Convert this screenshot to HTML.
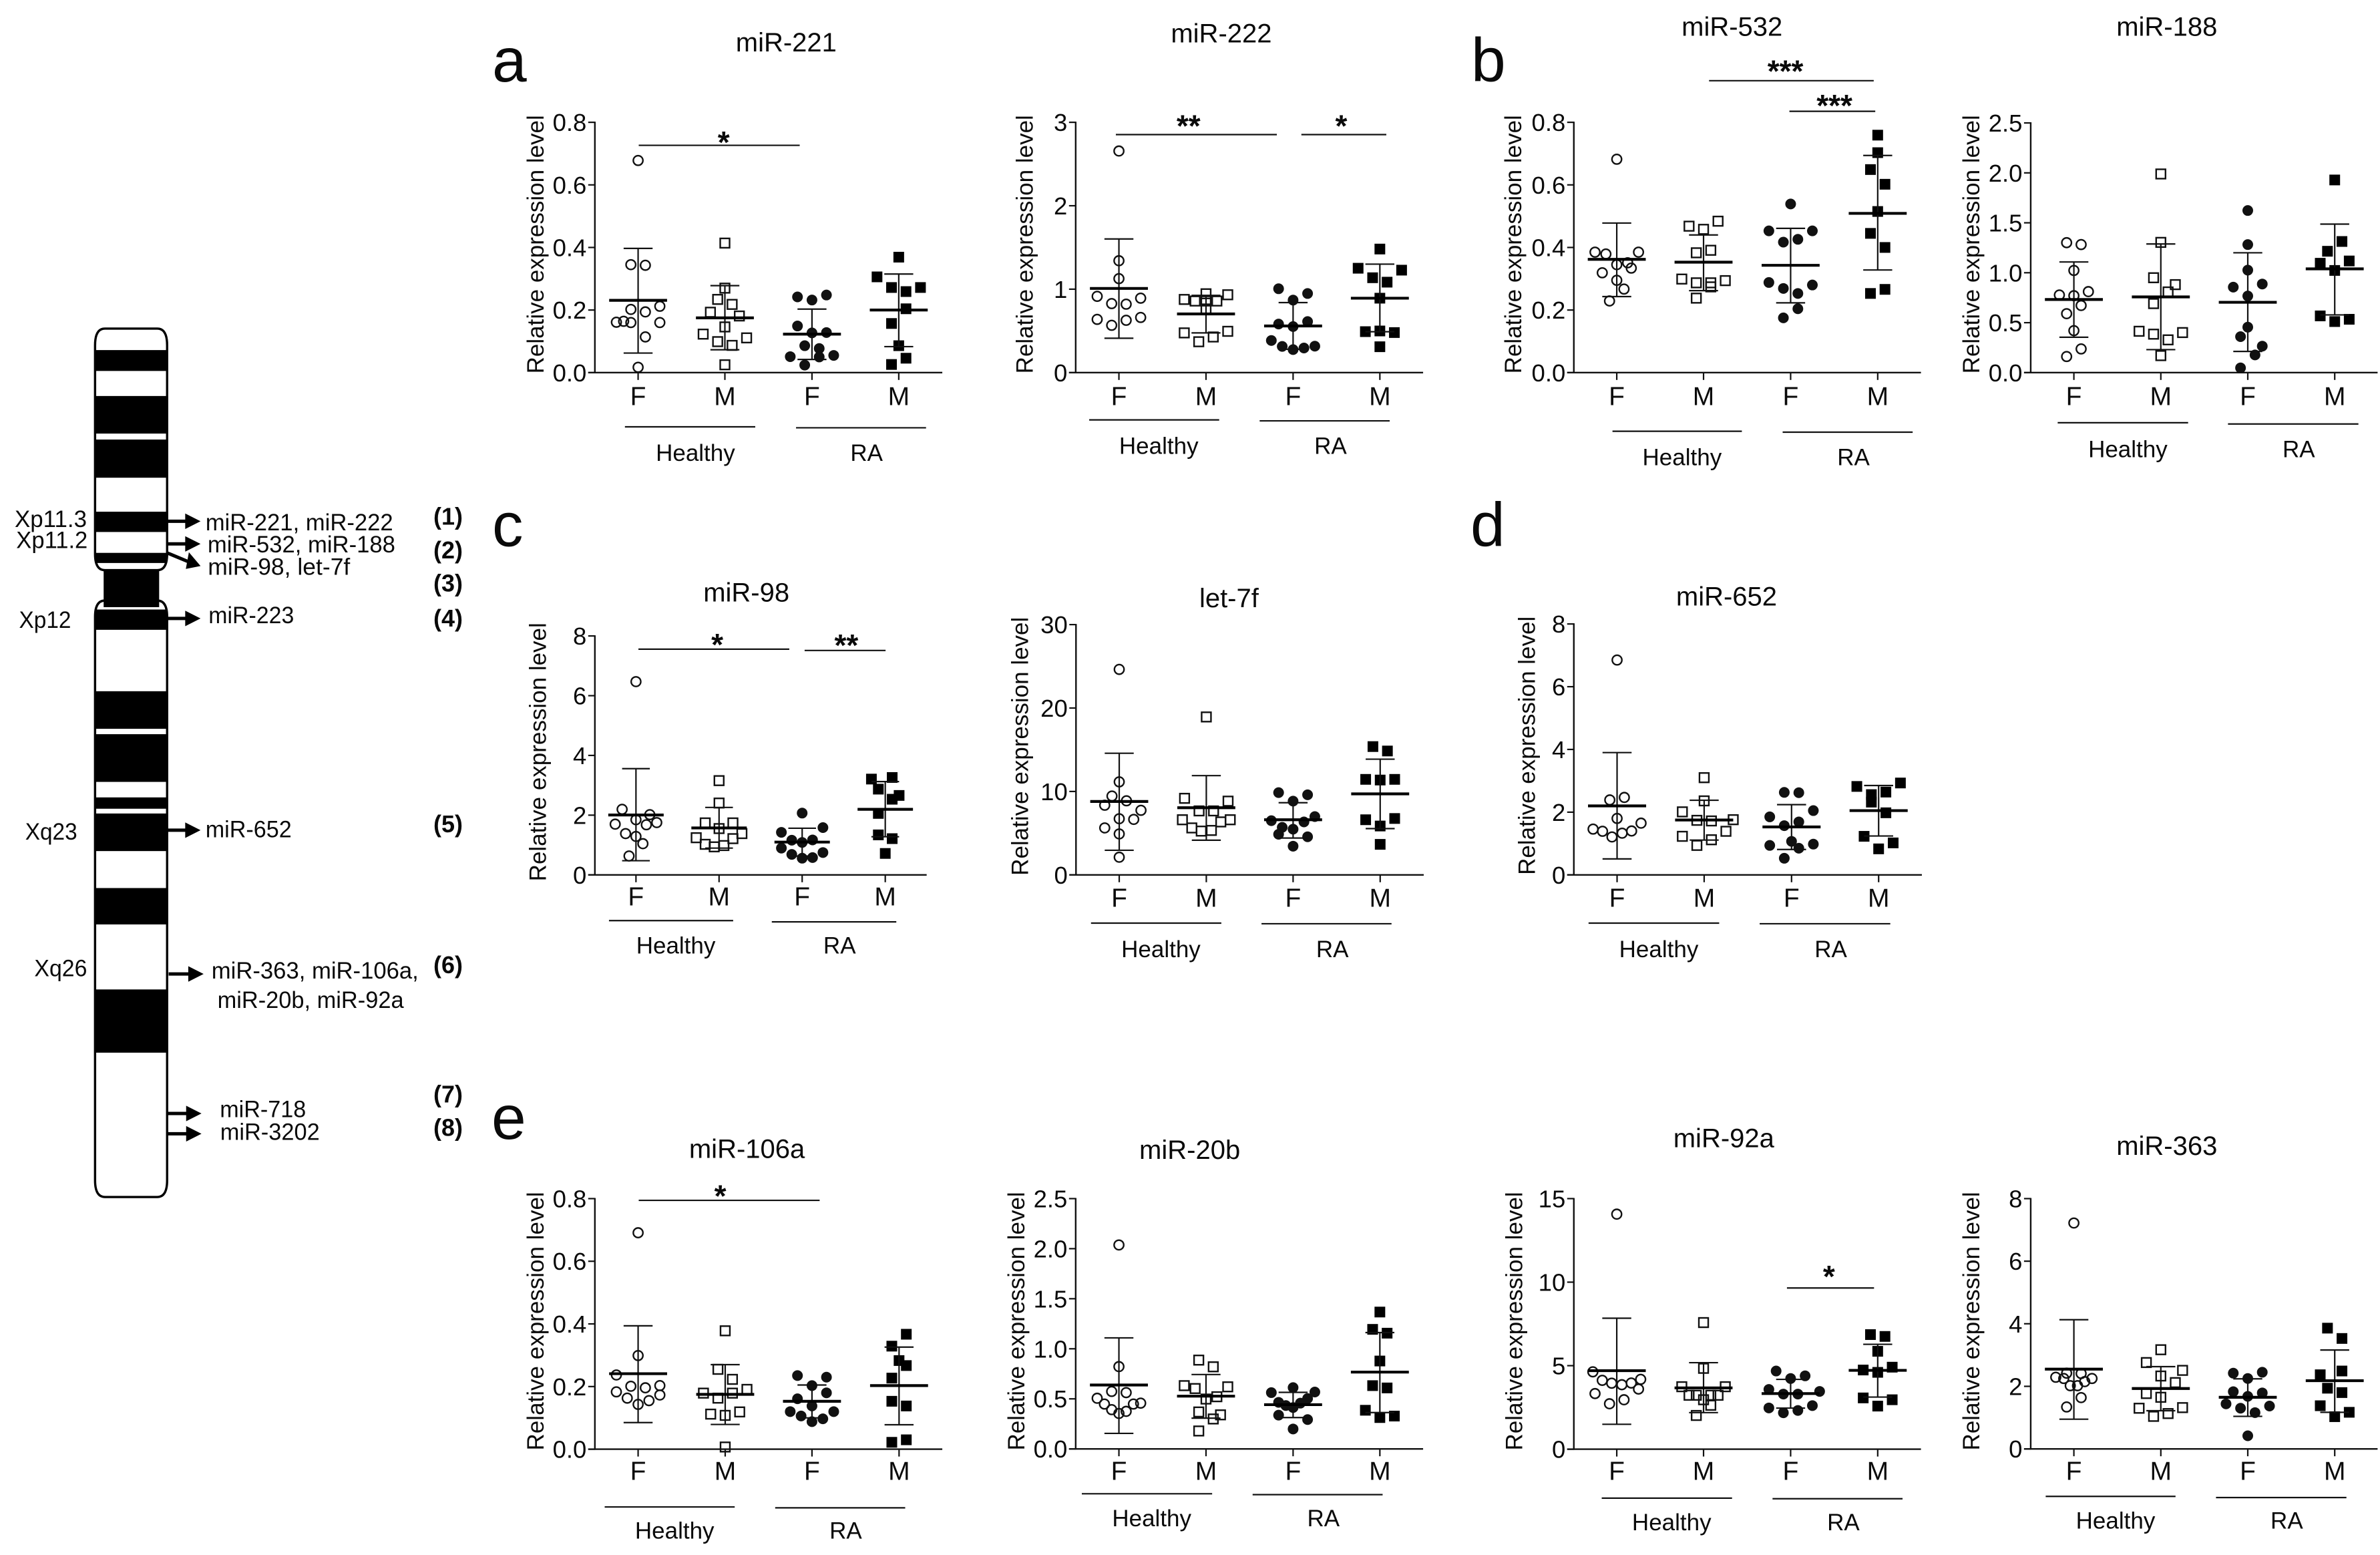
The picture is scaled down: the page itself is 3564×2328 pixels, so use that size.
<!DOCTYPE html>
<html lang="en">
<head>
<meta charset="utf-8">
<title>X-linked miRNA expression in healthy and RA groups</title>
<style>
html,body{margin:0;padding:0;background:#fff;}
svg{display:block;font-family:"Liberation Sans",Arial,sans-serif;}
text{fill:#0a0a0a;}
</style>
</head>
<body>
<svg id="figure" width="3564" height="2328" viewBox="0 0 3564 2328" xmlns="http://www.w3.org/2000/svg">
<rect x="0" y="0" width="3564" height="2328" fill="#fff"/>

<g>
  <g transform="translate(0,450) scale(0.4592,0.8929)">
    <path d="M310 75 Q310 47 342 47 L513 47 Q545 47 545 75 L545 425 Q545 452 513 452 L342 452 Q310 452 310 425 Z" fill="#fff" stroke="#000" stroke-width="3.4" vector-effect="non-scaling-stroke"/>
    <path d="M310 530 Q310 503 342 503 L513 503 Q545 503 545 530 L545 1475 Q545 1503 513 1503 L342 1503 Q310 1503 310 1475 Z" fill="#fff" stroke="#000" stroke-width="3.4" vector-effect="non-scaling-stroke"/>
    <rect x="338" y="452" width="181" height="62" fill="#000"/>
    <rect x="310" y="83" width="235" height="35" fill="#000"/>
    <rect x="310" y="160" width="235" height="63" fill="#000"/>
    <rect x="310" y="233" width="235" height="64" fill="#000"/>
    <rect x="310" y="354" width="235" height="34" fill="#000"/>
    <rect x="310" y="423" width="235" height="17" fill="#000"/>
    <rect x="310" y="518" width="235" height="34" fill="#000"/>
    <rect x="310" y="655" width="235" height="63" fill="#000"/>
    <rect x="310" y="727" width="235" height="80" fill="#000"/>
    <rect x="310" y="833" width="235" height="19" fill="#000"/>
    <rect x="310" y="860" width="235" height="63" fill="#000"/>
    <rect x="310" y="985" width="235" height="61" fill="#000"/>
    <rect x="310" y="1155" width="235" height="106" fill="#000"/>
    <g stroke="#000" stroke-width="5" fill="#000">
      <g><line x1="545" y1="370" x2="615" y2="370" vector-effect="non-scaling-stroke"/><path stroke="none" d="M604 357 L654 370 L604 383 Z"/></g>
      <g><line x1="545" y1="408" x2="615" y2="408" vector-effect="non-scaling-stroke"/><path stroke="none" d="M604 395 L654 408 L604 421 Z"/></g>
      <g><line x1="545" y1="423" x2="615" y2="438" vector-effect="non-scaling-stroke"/><path stroke="none" d="M616 422 L654 445 L606 450 Z"/></g>
      <g><line x1="545" y1="533" x2="615" y2="533" vector-effect="non-scaling-stroke"/><path stroke="none" d="M604 520 L654 533 L604 546 Z"/></g>
      <g><line x1="545" y1="888" x2="615" y2="888" vector-effect="non-scaling-stroke"/><path stroke="none" d="M604 875 L654 888 L604 901 Z"/></g>
      <g><line x1="550" y1="1129" x2="625" y2="1129" vector-effect="non-scaling-stroke"/><path stroke="none" d="M614 1116 L664 1129 L614 1142 Z"/></g>
      <g><line x1="545" y1="1363" x2="618" y2="1363" vector-effect="non-scaling-stroke"/><path stroke="none" d="M607 1350 L657 1363 L607 1376 Z"/></g>
      <g><line x1="545" y1="1397" x2="618" y2="1397" vector-effect="non-scaling-stroke"/><path stroke="none" d="M607 1384 L657 1397 L607 1410 Z"/></g>
    </g>
  </g>
  <g font-size="35">
    <text x="307.7" y="793.8" textLength="281" lengthAdjust="spacingAndGlyphs">miR-221, miR-222</text>
    <text x="310.9" y="826.8" textLength="281" lengthAdjust="spacingAndGlyphs">miR-532, miR-188</text>
    <text x="311.3" y="860.7" textLength="213" lengthAdjust="spacingAndGlyphs">miR-98, let-7f</text>
    <text x="312.3" y="933" textLength="128" lengthAdjust="spacingAndGlyphs">miR-223</text>
    <text x="307.7" y="1253.6" textLength="129" lengthAdjust="spacingAndGlyphs">miR-652</text>
    <text x="316.8" y="1465.2" textLength="310" lengthAdjust="spacingAndGlyphs">miR-363, miR-106a,</text>
    <text x="325.6" y="1509" textLength="279" lengthAdjust="spacingAndGlyphs">miR-20b, miR-92a</text>
    <text x="329.2" y="1672.4" textLength="129" lengthAdjust="spacingAndGlyphs">miR-718</text>
    <text x="329.7" y="1706.3" textLength="149" lengthAdjust="spacingAndGlyphs">miR-3202</text>
    <text x="22" y="789" textLength="108" lengthAdjust="spacingAndGlyphs">Xp11.3</text>
    <text x="24.3" y="820.4" textLength="107" lengthAdjust="spacingAndGlyphs">Xp11.2</text>
    <text x="28.5" y="940" textLength="78" lengthAdjust="spacingAndGlyphs">Xp12</text>
    <text x="37.7" y="1257" textLength="78" lengthAdjust="spacingAndGlyphs">Xq23</text>
    <text x="51.4" y="1461.7" textLength="79" lengthAdjust="spacingAndGlyphs">Xq26</text>
  </g>
  <g font-size="36" font-weight="700">
    <text x="649" y="785.3">(1)</text>
    <text x="649" y="836.2">(2)</text>
    <text x="649" y="885.3">(3)</text>
    <text x="649" y="938">(4)</text>
    <text x="649" y="1246">(5)</text>
    <text x="649" y="1456.8">(6)</text>
    <text x="649" y="1650.6">(7)</text>
    <text x="649" y="1700.6">(8)</text>
  </g>
</g>

<g font-size="93">
  <text x="737" y="122">a</text>
  <text x="2203" y="122">b</text>
  <text x="737" y="817.6">c</text>
  <text x="2202" y="817.6">d</text>
  <text x="736" y="1705">e</text>
</g>
<g id="charts"></g>
</svg>

<script>
// ---- shared categories and tick labels ----
const sexCategories = ['F', 'M', 'F', 'M'];
const cohortCategories = ['Healthy', 'RA'];
const ticksPoint8 = ['0.0', '0.2', '0.4', '0.6', '0.8'];
const ticks3 = ['0', '1', '2', '3'];
const ticks2point5 = ['0.0', '0.5', '1.0', '1.5', '2.0', '2.5'];
const ticks8 = ['0', '2', '4', '6', '8'];
const ticks30 = ['0', '10', '20', '30'];
const ticks15 = ['0', '5', '10', '15'];

// ---- series: values, jitter slot (category offset), mean, SD bounds ----
const miR221_values = [
  [.678,.345,.343,.212,.202,.194,.161,.164,.160,.160,.114,.017],
  [.414,.270,.234,.218,.193,.181,.146,.123,.111,.099,.087,.025],
  [.242,.232,.248,.149,.127,.128,.086,.077,.051,.050,.055,.024],
  [.369,.306,.272,.259,.272,.204,.157,.086,.046,.026]];
const miR221_slots = [
  [0,-1,1,3,-1,1,-3,-2,-1,3,1,0],
  [0,0,-1,1,-2,2,0,-3,3,-1,1,0],
  [-2,0,2,-2,0,2,-1,1,-3,1,3,-1],
  [0,-3,-1,1,3,1,-1,0,1,-1]];
const miR221_means = [.231,.175,.123,.200];
const miR221_upper = [.397,.278,.203,.315];
const miR221_lower = [.0625,.073,.042,.083];

const miR222_values = [
  [2.656,1.341,1.126,.914,.892,.827,.820,.638,.661,.627,.567],
  [.945,.933,.877,.858,.858,.858,.763,.476,.495,.427,.370],
  [1.005,.948,.869,.582,.612,.552,.385,.314,.276,.295,.317],
  [1.481,1.251,1.228,1.137,1.084,.892,.491,.499,.480,.310]];
const miR222_slots = [
  [0,0,0,-3,3,-1,1,-3,3,1,-1],
  [0,3,-3,-1.5,1.5,0,0,-3,3,1,-1],
  [-2,2,0,-2,2,0,-3,-1.5,0,1.5,3],
  [0,-3,3,-1,1,0,-2,0,2,0]];
const miR222_means = [1.009,.703,.559,.892];
const miR222_upper = [1.602,.926,.839,1.300];
const miR222_lower = [.412,.476,.28,.49];

const miR532_values = [
  [.682,.385,.379,.385,.351,.345,.334,.319,.295,.267,.229],
  [.484,.468,.458,.391,.383,.299,.287,.287,.294,.274,.238],
  [.539,.453,.453,.417,.426,.288,.280,.269,.253,.204,.175],
  [.759,.703,.649,.602,.515,.445,.400,.266,.253]];
const miR532_slots = [
  [0,-3,-1.5,3,1.5,0,2,-2,0,1,-1],
  [2,-2,0,1,-1,-3,-1,1,3,1,-1],
  [0,-3,3,-1,1,-3,3,-1,1,1,-1],
  [0,0,-1,1,0,-1,1,1,-1]];
const miR532_means = [.362,.353,.343,.509];
const miR532_upper = [.478,.440,.461,.694];
const miR532_lower = [.243,.262,.223,.328];

const miR188_values = [
  [1.301,1.282,1.023,.777,.770,.811,.672,.590,.420,.237,.161],
  [1.989,1.304,.950,.881,.808,.691,.414,.385,.401,.328,.170],
  [1.623,1.282,1.026,.856,.887,.767,.455,.360,.265,.177,.047],
  [1.929,1.313,1.215,1.095,1.118,1.023,.568,.534,.511]];
const miR188_slots = [
  [-1,1,0,-2,0,2,1,-1,0,1,-1],
  [0,0,-1,2,1,-1,-3,-1,3,1,0],
  [0,0,0,-2,2,0,0,-1,2,1,-1],
  [0,1,-1,-2,2,0,-2,2,0]];
const miR188_means = [.732,.758,.704,1.039];
const miR188_upper = [1.108,1.288,1.200,1.487];
const miR188_lower = [.354,.230,.212,.578];

const miR98_values = [
  [6.47,2.195,2.016,1.847,1.752,1.699,1.678,1.383,1.288,1.045,.633],
  [3.156,2.406,1.741,1.741,1.551,1.383,1.245,1.214,1.024,.982,.939],
  [2.069,1.583,1.425,1.161,1.087,1.171,.897,.749,.686,.559,.580],
  [3.208,3.261,2.871,2.660,2.533,2.058,1.340,1.214,.718]];
const miR98_slots = [
  [0,-2,2,0,3,-3,1.5,-1.5,0,1,-1],
  [0,0,-2,2,0,3.3,-3.3,2,-2,.7,-.7],
  [0,3,-3,-1.5,0,1.5,-3,3,-1.5,0,1.5],
  [-2,1,-1,2,1,-1,-1,1,0]];
const miR98_means = [2.005,1.573,1.098,2.195];
const miR98_upper = [3.557,2.259,1.562,3.124];
const miR98_lower = [.475,.897,.63,1.277];

const let7f_values = [
  [24.63,11.15,9.45,8.88,8.35,7.74,6.73,6.65,5.63,4.91,2.12],
  [18.93,9.18,8.84,7.67,7.67,6.61,6.61,6.35,5.63,5.25,5.33],
  [9.86,9.60,8.84,6.99,6.50,6.35,5.70,5.48,4.87,4.57,3.44],
  [15.38,14.85,11.45,11.37,11.45,6.61,6.76,5.86,3.66]];
const let7f_slots = [
  [0,0,-1,1,-2,3,0,2,-2,0,0],
  [0,-3,3,-1,1,-3.3,3.3,2,-2,-.7,.7],
  [-2,2,0,3,-3,1.5,-1.5,0,-2,2,0],
  [-1,1,-2,0,2,-2,2,0,0]];
const let7f_means = [8.80,8.05,6.61,9.71];
const let7f_upper = [14.58,11.90,8.65,13.87];
const let7f_lower = [2.95,4.16,4.42,5.55];

const miR652_values = [
  [6.85,2.47,2.39,1.80,1.65,1.46,1.39,1.40,1.33,1.21],
  [3.10,2.36,2.01,1.74,1.72,1.76,1.39,1.23,1.12,.94],
  [2.63,2.62,2.05,1.85,1.69,1.57,1.07,.94,.98,.85,.53],
  [2.82,2.93,2.56,2.64,2.32,1.98,1.23,1.02,.83]];
const miR652_slots = [
  [0,1,-1,0,3.3,-3.3,-2,2,.7,-.7],
  [0,0,-3,-1,1,4,3,-3,1,-1],
  [-1,1,3,-3,1,-1,0,-3,3,1,-1],
  [-3,3,-1,1,-1,1,-2,2,0]];
const miR652_means = [2.20,1.75,1.53,2.05];
const miR652_upper = [3.90,2.38,2.24,2.85];
const miR652_lower = [.51,1.11,.81,1.24];

const miR106a_values = [
  [.691,.299,.237,.203,.201,.196,.183,.173,.163,.155,.143],
  [.378,.255,.223,.191,.179,.179,.163,.119,.112,.108,.007],
  [.235,.230,.203,.180,.161,.138,.120,.120,.106,.097,.088],
  [.367,.329,.283,.267,.227,.153,.138,.030,.022]];
const miR106a_slots = [
  [0,0,-3,3,-1,1,-3,3,-1.5,1.5,0],
  [0,-1,1,3,-3,1,-1,2,-2,0,0],
  [-2,2,0,2,-2,0,-3,3,-1.5,1.5,0],
  [1,-1,0,1,-1,-1,1,1,-1]];
const miR106a_means = [.241,.175,.153,.203];
const miR106a_upper = [.394,.270,.205,.326];
const miR106a_lower = [.085,.079,.100,.078];

const miR20b_values = [
  [2.037,.822,.574,.562,.506,.448,.457,.448,.392,.375,.354],
  [.887,.820,.632,.620,.603,.521,.498,.369,.340,.299,.179],
  [.612,.562,.568,.503,.465,.457,.433,.413,.337,.293,.199],
  [1.367,1.194,1.156,.878,.632,.609,.386,.313,.328]];
const miR20b_slots = [
  [0,0,-1,1,-3,-2,3,2,-1,1,0],
  [-1,1,-3,3,-1.5,1.5,0,-1,2,1,-1],
  [0,-3,3,2,-2,1,-1,0,-2,2,0],
  [0,-1,1,0,-1,1,-2,0,2]];
const miR20b_means = [.638,.527,.442,.767];
const miR20b_upper = [1.109,.743,.565,1.162];
const miR20b_lower = [.155,.307,.313,.363];

const miR92a_values = [
  [14.07,4.63,4.18,4.12,3.95,3.86,3.96,3.60,3.33,2.96,2.72],
  [7.58,4.84,3.74,3.74,3.23,3.23,3.23,3.23,2.96,2.63,2.02],
  [4.68,4.23,4.39,3.58,3.46,3.30,3.30,2.47,2.61,2.32,2.18],
  [6.86,6.75,5.86,4.74,4.91,4.60,3.07,2.96,2.58]];
const miR92a_slots = [
  [0,-3.3,3.3,-2,-.7,.7,2,3,-3,1,-1],
  [0,0,-3,3,-2,-1,1,2,0,1,-1],
  [-2,0,2,-3,4,-1,1,-3,3,1,-1],
  [-1,1,0,-2,2,0,-2,2,0]];
const miR92a_means = [4.70,3.67,3.33,4.72];
const miR92a_upper = [7.84,5.18,4.18,6.28];
const miR92a_lower = [1.49,2.19,2.46,3.12];

const miR363_values = [
  [7.22,2.42,2.41,2.29,2.25,2.25,2.15,2.02,2.02,1.64,1.34],
  [3.17,2.76,2.51,2.33,2.12,1.77,1.65,1.30,1.32,1.13,1.04],
  [2.42,2.45,2.25,1.83,1.79,1.68,1.44,1.37,1.30,1.16,.42],
  [3.86,3.53,2.49,2.37,1.94,1.80,1.38,1.17,1.03]];
const miR363_slots = [
  [0,-1,1,-2.5,2.5,-1.4,1.5,-.5,.5,1,-1],
  [0,-2,3,0,2,-2,0,-3,3,1,-1],
  [-2,2,0,-2,2,0,-3,3,-1,1,0],
  [-1,1,1,-2,-1,1,-2,2,0]];
const miR363_means = [2.55,1.93,1.65,2.18];
const miR363_upper = [4.13,2.63,2.24,3.16];
const miR363_lower = [.95,1.22,1.04,1.17];

// ---- drawing helpers ----
const SVG_NS = 'http://www.w3.org/2000/svg';
const root = document.getElementById('charts');
function node(parent, tag, attrs, content) {
  const el = document.createElementNS(SVG_NS, tag);
  for (const k in attrs) el.setAttribute(k, attrs[k]);
  if (content !== undefined) el.textContent = content;
  parent.appendChild(el);
  return el;
}

function drawPanel(o) {
  const sx = o.w / 1568, sy = o.h / 1568;
  const X = z => o.x0 + z * sx;
  const Y = z => o.y0 + z * sy;
  const axisX = X(o.axis), baseY = Y(o.base), topY = Y(o.top);
  const ymax = parseFloat(o.ticks[o.ticks.length - 1]);
  const yScale = v => baseY - (v / ymax) * (baseY - topY);
  const catX = i => X(o.cats[i]);
  const step = (o.cats[3] - o.cats[0]) / 3 * sx;
  const slotX = (i, s) => catX(i) + s * step / 12;

  const g = node(root, 'g', {});
  
  

  const title = node(g, 'text', {x: X(o.titleX), y: Y(o.titleY), 'font-size': 40, 'text-anchor': 'middle'}, o.title);
  
  

  const yl = node(g, 'text', {x: X(o.ylabelX), y: Y(o.ylabelCy), 'font-size': 35, 'text-anchor': 'middle',
    transform: 'rotate(-90 ' + X(o.ylabelX) + ' ' + Y(o.ylabelCy) + ')'}, 'Relative expression level');
  
  

  const yAxis = node(g, 'line', {x1: axisX, x2: axisX, y1: topY - 1, y2: baseY + 1, stroke: '#111', 'stroke-width': 2.4});
  
  
  const xAxis = node(g, 'line', {x1: axisX - 10, x2: X(o.right), y1: baseY, y2: baseY, stroke: '#111', 'stroke-width': 2.4});
  
  

  o.ticks.forEach(label => {
    const y = yScale(parseFloat(label));
    const t = node(g, 'line', {x1: axisX - 10, x2: axisX, y1: y, y2: y, stroke: '#111', 'stroke-width': 2.2});
    
    
    const tl = node(g, 'text', {x: axisX - 12.5, y: y + 13, 'font-size': 36.5, 'text-anchor': 'end'}, label);
    
    
  });

  sexCategories.forEach((label, i) => {
    const t = node(g, 'line', {x1: catX(i), x2: catX(i), y1: baseY, y2: baseY + 11, stroke: '#111', 'stroke-width': 2.2});
    
    
    const tl = node(g, 'text', {x: catX(i), y: Y(o.xlabelY), 'font-size': 39, 'text-anchor': 'middle'}, label);
    
    
  });

  cohortCategories.forEach((label, i) => {
    const spec = o.cohorts[i];
    const ln = node(g, 'line', {x1: X(spec[0]), x2: X(spec[1]), y1: Y(spec[2]), y2: Y(spec[2]), stroke: '#111', 'stroke-width': 2.2});
    
    
    const tx = node(g, 'text', {x: X(spec[3]), y: Y(spec[4]), 'font-size': 35, 'text-anchor': 'middle'}, label);
    
    
  });

  o.values.forEach((series, i) => {
    series.forEach((v, j) => {
      const cx = slotX(i, o.slots[i][j]), cy = yScale(v);
      let m;
      if (i === 0) {
        m = node(g, 'circle', {cx: cx, cy: cy, r: 7.2, fill: 'none', stroke: '#111', 'stroke-width': 2.4});
      } else if (i === 1) {
        m = node(g, 'rect', {x: cx - 7, y: cy - 7, width: 14, height: 14, fill: 'none', stroke: '#111', 'stroke-width': 2.4});
      } else if (i === 2) {
        m = node(g, 'circle', {cx: cx, cy: cy, r: 8, fill: '#111'});
      } else {
        m = node(g, 'rect', {x: cx - 8, y: cy - 8, width: 16, height: 16, fill: '#000'});
      }
      
      
    });
    const cx = catX(i);
    const stem = node(g, 'line', {x1: cx, x2: cx, y1: yScale(o.upper[i]), y2: yScale(o.lower[i]), stroke: '#111', 'stroke-width': 2.2});
    
    
    const capHi = node(g, 'line', {x1: cx - step / 6, x2: cx + step / 6, y1: yScale(o.upper[i]), y2: yScale(o.upper[i]), stroke: '#111', 'stroke-width': 2.2});
    
    
    const capLo = node(g, 'line', {x1: cx - step / 6, x2: cx + step / 6, y1: yScale(o.lower[i]), y2: yScale(o.lower[i]), stroke: '#111', 'stroke-width': 2.2});
    
    
    const mean = node(g, 'line', {x1: cx - step / 3, x2: cx + step / 3, y1: yScale(o.means[i]), y2: yScale(o.means[i]), stroke: '#000', 'stroke-width': 4.2});
    
    
  });

  (o.sig || []).forEach(s => {
    const ln = node(g, 'line', {x1: X(s[0]), x2: X(s[1]), y1: Y(s[2]), y2: Y(s[2]), stroke: '#111', 'stroke-width': 2.2});
    
    
    const st = node(g, 'text', {x: X(s[4]), y: Y(s[5]) + 26, 'font-size': 46, 'font-weight': 700, 'text-anchor': 'middle'}, s[3]);
    
    
  });
}

// ---- layout per panel (reference-crop units) and data wiring ----
drawPanel({title:'miR-221', x0:720, y0:0, w:720, h:740, axis:372, base:1182, top:388, right:1505,
  cats:[513,796,1080,1363], ticks:ticksPoint8, titleX:996, titleY:163, ylabelX:205, ylabelCy:775, xlabelY:1285,
  cohorts:[[470,895,1354,700,1462],[1028,1452,1357,1258,1462]], sig:[[515,1040,461,'*',792,430]],
  values:miR221_values, slots:miR221_slots, means:miR221_means, upper:miR221_upper, lower:miR221_lower});

drawPanel({title:'miR-222', x0:1440, y0:0, w:720, h:740, axis:372, base:1182, top:388, right:1505,
  cats:[513,797,1081,1364], ticks:ticks3, titleX:847, titleY:135, ylabelX:232, ylabelCy:775, xlabelY:1285,
  cohorts:[[416,840,1332,643,1440],[972,1396,1335,1203,1440]], sig:[[503,1028,427,'**',740,378],[1108,1385,427,'*',1238,378]],
  values:miR222_values, slots:miR222_slots, means:miR222_means, upper:miR222_upper, lower:miR222_lower});

drawPanel({title:'miR-532', x0:2180, y0:0, w:720, h:740, axis:385, base:1182, top:388, right:1517,
  cats:[525,808,1092,1376], ticks:ticksPoint8, titleX:901, titleY:113, ylabelX:213, ylabelCy:775, xlabelY:1285,
  cohorts:[[511,933,1368,738,1476],[1066,1490,1371,1297,1476]], sig:[[826,1363,256,'***',1075,205],[1088,1368,353,'***',1235,314]],
  values:miR532_values, slots:miR532_slots, means:miR532_means, upper:miR532_upper, lower:miR532_lower});

drawPanel({title:'miR-188', x0:2860, y0:0, w:704, h:740, axis:403, base:1182, top:390, right:1560,
  cats:[547,837,1127,1417], ticks:ticks2point5, titleX:857, titleY:113, ylabelX:232, ylabelCy:775, xlabelY:1285,
  cohorts:[[493,928,1341,727,1450],[1061,1496,1345,1297,1450]],
  values:miR188_values, slots:miR188_slots, means:miR188_means, upper:miR188_upper, lower:miR188_lower});

drawPanel({title:'miR-98', x0:720, y0:760, w:720, h:740, axis:372, base:1165, top:407, right:1454,
  cats:[506,777,1048,1319], ticks:ticks8, titleX:866, titleY:298, ylabelX:212, ylabelCy:775, xlabelY:1262,
  cohorts:[[418,823,1310,636,1414],[949,1355,1314,1170,1414]], sig:[[514,1006,449,'*',771,413],[1056,1320,453,'**',1192,415]],
  values:miR98_values, slots:miR98_slots, means:miR98_means, upper:miR98_upper, lower:miR98_lower});

drawPanel({title:'let-7f', x0:1440, y0:760, w:720, h:740, axis:373, base:1165, top:371, right:1507,
  cats:[514,798,1081,1365], ticks:ticks30, titleX:872, titleY:316, ylabelX:217, ylabelCy:757, xlabelY:1266,
  cohorts:[[422,847,1318,650,1426],[978,1402,1320,1209,1426]],
  values:let7f_values, slots:let7f_slots, means:let7f_means, upper:let7f_upper, lower:let7f_lower});

drawPanel({title:'miR-652', x0:2180, y0:760, w:720, h:740, axis:385, base:1165, top:369, right:1520,
  cats:[526,810,1095,1379], ticks:ticks8, titleX:883, titleY:310, ylabelX:258, ylabelCy:755, xlabelY:1266,
  cohorts:[[433,859,1318,662,1426],[991,1417,1320,1223,1426]],
  values:miR652_values, slots:miR652_slots, means:miR652_means, upper:miR652_upper, lower:miR652_lower});

drawPanel({title:'miR-106a', x0:720, y0:1640, w:720, h:688, axis:372, base:1207, top:352, right:1505,
  cats:[513,797,1080,1364], ticks:ticksPoint8, titleX:868, titleY:213, ylabelX:205, ylabelCy:770, xlabelY:1312,
  cohorts:[[404,828,1404,632,1512],[960,1384,1407,1190,1512]], sig:[[515,1105,358,'*',781,320]],
  values:miR106a_values, slots:miR106a_slots, means:miR106a_means, upper:miR106a_upper, lower:miR106a_lower});

drawPanel({title:'miR-20b', x0:1440, y0:1640, w:720, h:688, axis:372, base:1206, top:352, right:1505,
  cats:[513,797,1081,1364], ticks:ticks2point5, titleX:744, titleY:216, ylabelX:205, ylabelCy:770, xlabelY:1312,
  cohorts:[[392,817,1359,620,1470],[949,1373,1362,1180,1470]],
  values:miR20b_values, slots:miR20b_slots, means:miR20b_means, upper:miR20b_upper, lower:miR20b_lower});

drawPanel({title:'miR-92a', x0:2180, y0:1640, w:720, h:688, axis:385, base:1207, top:352, right:1517,
  cats:[525,808,1092,1376], ticks:ticks15, titleX:874, titleY:177, ylabelX:217, ylabelCy:770, xlabelY:1312,
  cohorts:[[476,901,1374,704,1484],[1033,1457,1376,1264,1484]], sig:[[1080,1364,657,'*',1217,595]],
  values:miR92a_values, slots:miR92a_slots, means:miR92a_means, upper:miR92a_upper, lower:miR92a_lower});

drawPanel({title:'miR-363', x0:2860, y0:1640, w:704, h:688, axis:403, base:1206, top:352, right:1560,
  cats:[547,837,1127,1417], ticks:ticks8, titleX:857, titleY:203, ylabelX:232, ylabelCy:770, xlabelY:1312,
  cohorts:[[453,886,1368,686,1478],[1021,1456,1372,1257,1478]],
  values:miR363_values, slots:miR363_slots, means:miR363_means, upper:miR363_upper, lower:miR363_lower});
</script>
</body>
</html>
